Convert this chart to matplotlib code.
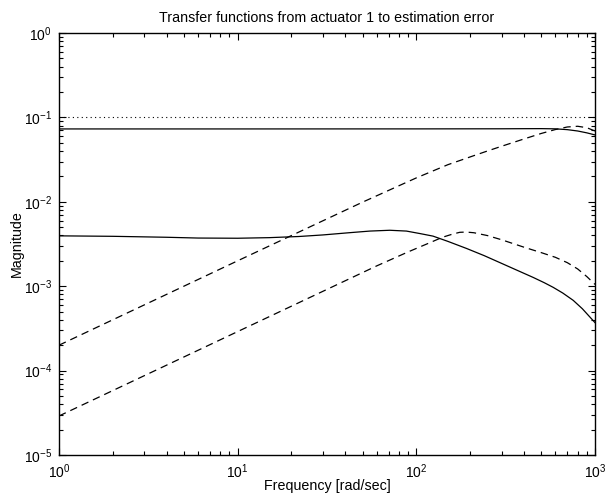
import numpy as np
import matplotlib
matplotlib.use('Agg')
from matplotlib import pyplot as plt
from matplotlib.ticker import LogLocator

plt.rcParams['font.family'] = ['Liberation Sans', 'DejaVu Sans']
plt.rcParams['mathtext.fontset'] = 'custom'
plt.rcParams['mathtext.rm'] = 'Liberation Sans'
plt.rcParams['mathtext.it'] = 'Liberation Sans'

# upper solid curve
w_s1 = [1, 10, 100, 300, 400, 500, 600, 700, 800, 900, 1000]
mag_s1 = [0.0730, 0.0730, 0.0731, 0.0733, 0.0735, 0.0736, 0.0732, 0.0716, 0.0690, 0.0656, 0.0620]

# upper dashed curve
w_d1 = [1, 10, 50, 100, 150, 200, 250, 300, 400, 500, 600, 700, 800, 900, 1000]
mag_d1 = [2.0e-4, 2.0e-3, 0.0099, 0.0192, 0.0275, 0.0340, 0.0400, 0.0455, 0.0555, 0.0645, 0.0718, 0.0770, 0.0785, 0.0755, 0.0690]

# lower solid curve
w_s2 = [1, 2, 4, 6, 10, 15, 22, 30, 42, 55, 71, 88, 105, 124, 150, 191, 240, 294, 360, 451, 520, 583, 660, 755, 850, 1000]
mag_s2 = [3.95e-3, 3.9e-3, 3.8e-3, 3.72e-3, 3.7e-3, 3.76e-3, 3.88e-3, 4.05e-3, 4.3e-3, 4.5e-3, 4.6e-3, 4.5e-3, 4.2e-3, 3.92e-3, 3.4e-3, 2.8e-3, 2.3e-3, 1.9e-3, 1.57e-3, 1.27e-3, 1.1e-3, 9.7e-4, 8.3e-4, 6.8e-4, 5.4e-4, 3.7e-4]

# lower dashed curve
w_d2 = [1, 10, 30, 60, 90, 120, 140, 160, 175, 190, 210, 250, 300, 400, 500, 600, 700, 800, 900, 1000]
mag_d2 = [2.9e-5, 2.9e-4, 8.7e-4, 1.74e-3, 2.55e-3, 3.3e-3, 3.8e-3, 4.15e-3, 4.35e-3, 4.38e-3, 4.3e-3, 3.98e-3, 3.55e-3, 2.9e-3, 2.5e-3, 2.2e-3, 1.9e-3, 1.6e-3, 1.3e-3, 1.05e-3]

# bound
w_bound = [1, 1000]
mag_bound = [0.1, 0.1]

fig = plt.figure(figsize=(6.07, 4.96), dpi=100)
ax = fig.add_axes([59/607, 1 - 455/496, (595-59)/607, (455-33)/496])

ax.loglog(w_bound, mag_bound, color='k', linestyle=(0, (1, 3)), linewidth=0.8)
ax.loglog(w_s1, mag_s1, color='k', linestyle='-', linewidth=0.9)
ax.loglog(w_d1, mag_d1, color='k', linestyle=(0, (6, 4)), linewidth=0.9)
ax.loglog(w_s2, mag_s2, color='k', linestyle='-', linewidth=0.9)
ax.loglog(w_d2, mag_d2, color='k', linestyle=(0, (6, 4)), linewidth=0.9)

ax.set_xlim(1, 1000)
ax.set_ylim(1e-5, 1)
ax.xaxis.set_major_locator(LogLocator(base=10, numticks=10))
ax.yaxis.set_major_locator(LogLocator(base=10, numticks=10))
ax.xaxis.set_minor_locator(LogLocator(base=10, subs=np.arange(2, 10), numticks=20))
ax.yaxis.set_minor_locator(LogLocator(base=10, subs=np.arange(2, 10), numticks=20))
ax.tick_params(which='both', direction='in', top=True, right=True, labelsize=10, width=0.8)
ax.tick_params(axis='x', pad=5)
ax.tick_params(axis='y', pad=5)
ax.tick_params(which='major', length=5)
ax.tick_params(which='minor', length=3)
for s in ax.spines.values():
    s.set_linewidth(1.0)

ax.set_title('Transfer functions from actuator 1 to estimation error', fontsize=10.3, pad=8)
ax.set_xlabel('Frequency [rad/sec]', fontsize=10.3, labelpad=-1)
ax.set_ylabel('Magnitude', fontsize=10.3, labelpad=0)

fig.savefig('out.png', dpi=100)
